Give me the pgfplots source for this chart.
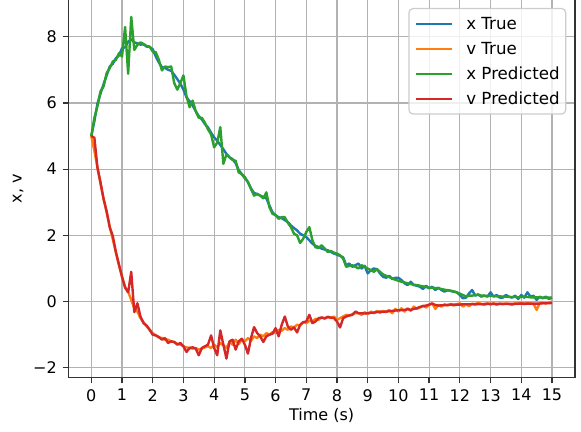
\documentclass[border=0pt]{standalone}
\usepackage{fontspec}
\setmainfont{DejaVu Sans}
\usepackage{pgfplots}
\usepackage{pgfplotstable}
\pgfplotsset{compat=1.18}
\definecolor{C0}{HTML}{1F77B4}
\definecolor{C1}{HTML}{FF7F0E}
\definecolor{C2}{HTML}{2CA02C}
\definecolor{C3}{HTML}{D62728}
\pgfplotstableread{
t xt vt xp vp
0.0 5.00 5.00 5.00 5.00
0.1 5.45 4.55 5.55 4.95
0.2 5.98 4.05 5.90 4.05
0.3 6.28 3.55 6.35 3.60
0.4 6.57 3.10 6.50 3.10
0.5 6.83 2.70 6.90 2.72
0.6 7.10 2.25 7.05 2.25
0.7 7.18 1.88 7.25 1.98
0.8 7.35 1.48 7.30 1.50
0.9 7.43 1.10 7.50 1.12
1.0 7.65 0.75 7.40 0.75
1.1 7.68 0.45 8.29 0.42
1.2 7.85 0.30 6.88 0.28
1.3 7.92 0.05 8.60 0.90
1.4 7.83 -0.20 7.60 -0.32
1.5 7.80 -0.30 7.75 -0.05
1.6 7.76 -0.50 7.83 -0.45
1.7 7.77 -0.62 7.78 -0.65
1.8 7.70 -0.75 7.72 -0.72
1.9 7.69 -0.85 7.70 -0.85
2.0 7.62 -0.95 7.55 -1.00
2.1 7.40 -1.02 7.53 -1.02
2.2 7.22 -1.08 7.30 -1.07
2.3 7.08 -1.10 6.98 -1.15
2.4 7.06 -1.15 7.10 -1.10
2.5 7.00 -1.15 7.08 -1.25
2.6 6.97 -1.20 7.10 -1.20
2.7 6.85 -1.22 6.60 -1.22
2.8 6.72 -1.27 6.40 -1.30
2.9 6.58 -1.30 6.60 -1.25
3.0 6.40 -1.35 6.83 -1.35
3.1 6.17 -1.38 6.20 -1.52
3.2 6.05 -1.40 5.87 -1.40
3.3 5.92 -1.42 6.07 -1.38
3.4 5.75 -1.40 5.75 -1.42
3.5 5.60 -1.45 5.55 -1.62
3.6 5.50 -1.42 5.55 -1.40
3.7 5.36 -1.38 5.40 -1.35
3.8 5.26 -1.35 5.20 -1.30
3.9 5.10 -1.40 5.05 -1.02
4.0 4.96 -1.30 4.66 -1.40
4.1 4.86 -1.38 4.80 -1.62
4.2 4.73 -1.25 5.27 -0.87
4.3 4.60 -1.32 4.16 -1.30
4.4 4.46 -1.40 4.45 -1.72
4.5 4.36 -1.22 4.35 -1.20
4.6 4.30 -1.30 4.28 -1.15
4.7 4.18 -1.15 4.25 -1.45
4.8 3.97 -1.28 3.90 -1.20
4.9 3.85 -1.15 3.85 -1.12
5.0 3.76 -1.20 3.72 -1.30
5.1 3.60 -1.10 3.62 -1.57
5.2 3.42 -1.18 3.40 -1.10
5.3 3.28 -1.05 3.20 -0.77
5.4 3.25 -1.10 3.25 -0.95
5.5 3.20 -1.00 3.20 -1.05
5.6 3.16 -1.05 3.12 -1.22
5.7 3.12 -0.95 3.30 -1.05
5.8 2.90 -1.00 2.85 -1.00
5.9 2.70 -0.92 2.65 -0.97
6.0 2.60 -0.95 2.62 -0.80
6.1 2.55 -0.85 2.50 -1.05
6.2 2.52 -0.88 2.55 -0.70
6.3 2.46 -0.80 2.55 -0.45
6.4 2.40 -0.85 2.38 -0.75
6.5 2.30 -0.75 2.25 -0.85
6.6 2.22 -0.78 2.05 -0.78
6.7 2.15 -0.70 2.00 -0.93
6.8 2.05 -0.72 1.77 -0.70
6.9 2.00 -0.62 1.90 -0.62
7.0 1.95 -0.65 2.10 -0.60
7.1 1.85 -0.58 2.25 -0.40
7.2 1.75 -0.60 1.85 -0.65
7.3 1.68 -0.52 1.64 -0.60
7.4 1.65 -0.55 1.62 -0.50
7.5 1.60 -0.48 1.70 -0.48
7.6 1.57 -0.52 1.60 -0.50
7.7 1.55 -0.45 1.50 -0.47
7.8 1.50 -0.50 1.53 -0.48
7.9 1.45 -0.45 1.48 -0.50
8.0 1.42 -0.55 1.45 -0.60
8.1 1.38 -0.50 1.40 -0.78
8.2 1.34 -0.45 1.30 -0.50
8.3 1.10 -0.40 1.05 -0.45
8.4 1.15 -0.42 1.08 -0.42
8.5 1.05 -0.38 1.10 -0.40
8.6 1.10 -0.35 1.05 -0.30
8.7 1.15 -0.35 1.00 -0.35
8.8 1.00 -0.40 1.10 -0.35
8.9 1.08 -0.32 1.05 -0.36
9.0 0.85 -0.38 1.00 -0.35
9.1 0.95 -0.30 0.95 -0.34
9.2 1.00 -0.35 0.90 -0.33
9.3 0.98 -0.28 0.98 -0.32
9.4 0.85 -0.34 0.90 -0.30
9.5 0.75 -0.28 0.82 -0.31
9.6 0.72 -0.32 0.78 -0.30
9.7 0.78 -0.25 0.74 -0.29
9.8 0.68 -0.35 0.70 -0.28
9.9 0.72 -0.22 0.66 -0.27
10.0 0.72 -0.30 0.63 -0.26
10.1 0.65 -0.20 0.60 -0.26
10.2 0.55 -0.30 0.58 -0.25
10.3 0.50 -0.20 0.55 -0.23
10.4 0.60 -0.28 0.53 -0.25
10.5 0.50 -0.15 0.51 -0.22
10.6 0.48 -0.22 0.50 -0.20
10.7 0.45 -0.18 0.48 -0.16
10.8 0.38 -0.12 0.46 -0.14
10.9 0.48 -0.18 0.44 -0.12
11.0 0.40 -0.10 0.42 -0.09
11.1 0.45 -0.05 0.42 -0.06
11.2 0.35 -0.22 0.41 -0.10
11.3 0.42 -0.10 0.40 -0.12
11.4 0.35 -0.15 0.38 -0.11
11.5 0.30 -0.08 0.36 -0.11
11.6 0.35 -0.12 0.34 -0.10
11.7 0.32 -0.07 0.33 -0.09
11.8 0.30 -0.12 0.31 -0.09
11.9 0.28 -0.08 0.28 -0.09
12.0 0.20 -0.05 0.24 -0.09
12.1 0.10 -0.15 0.20 -0.08
12.2 0.12 -0.08 0.15 -0.08
12.3 0.25 -0.14 0.18 -0.08
12.4 0.35 -0.06 0.18 -0.08
12.5 0.18 -0.10 0.20 -0.07
12.6 0.22 -0.03 0.20 -0.08
12.7 0.15 -0.07 0.18 -0.08
12.8 0.18 -0.10 0.18 -0.07
12.9 0.15 -0.05 0.17 -0.07
13.0 0.28 -0.09 0.17 -0.07
13.1 0.15 -0.05 0.17 -0.07
13.2 0.20 -0.10 0.16 -0.07
13.3 0.12 -0.06 0.16 -0.07
13.4 0.12 -0.08 0.15 -0.07
13.5 0.20 -0.06 0.15 -0.07
13.6 0.15 -0.07 0.14 -0.07
13.7 0.12 -0.10 0.14 -0.07
13.8 0.18 -0.05 0.14 -0.07
13.9 0.08 -0.07 0.13 -0.06
14.0 0.20 -0.04 0.14 -0.06
14.1 0.12 -0.08 0.14 -0.06
14.2 0.28 -0.05 0.14 -0.06
14.3 0.15 -0.06 0.13 -0.06
14.4 0.18 -0.07 0.13 -0.06
14.5 0.05 -0.25 0.13 -0.06
14.6 0.15 -0.05 0.13 -0.06
14.7 0.10 -0.04 0.12 -0.05
14.8 0.15 -0.06 0.12 -0.05
14.9 0.08 -0.03 0.12 -0.05
15.0 0.12 0.00 0.12 -0.04
}\data
\begin{document}
\begin{tikzpicture}
\begin{axis}[
  at={(0,0)}, anchor=south west,
  scale only axis,
  width=380pt, height=283.6pt,
  xmin=-0.75, xmax=15.75,
  ymin=-2.3, ymax=9.12,
  xtick={0,1,...,15},
  ytick={-2,0,2,4,6,8},
  yticklabels={−2,0,2,4,6,8},
  grid=major,
  grid style={color=black!30, line width=0.9pt},
  tick align=outside,
  tick pos=left,
  major tick length=4.2pt,
  tick style={black!80, line width=0.96pt},
  axis line style={black!80, line width=0.96pt},
  /pgf/number format/assume math mode=true,
  ticklabel style={font=\fontsize{12}{14}\selectfont},
  xticklabel style={inner sep=0pt, anchor=north, yshift=-4.2pt},
  yticklabel style={inner sep=0pt, anchor=east, xshift=-4.2pt},
  label style={font=\fontsize{12}{14}\selectfont},
  xlabel={Time (s)},
  ylabel={x, v},
  xlabel style={at={(axis description cs:0.5,-0.101)}, anchor=center},
  ylabel style={at={(axis description cs:-0.099,0.5)}, anchor=center, rotate=0},
  legend cell align=left,
  legend style={font=\fontsize{12.5}{14}\selectfont, draw=black!20, line width=0.9pt, rounded corners=3pt, fill=white, fill opacity=0.8, text opacity=1, at={(1,1)}, anchor=north east, xshift=-6.5pt, yshift=-6.3pt, inner xsep=4.5pt, inner ysep=2pt, row sep=0pt, nodes={inner sep=0pt, text height=13.8pt, text depth=4.95pt}, /tikz/every odd column/.append style={column sep=9.75pt}, /tikz/every even column/.append style={column sep=0pt}},
  legend image code/.code={\draw[#1] (0pt,0pt) -- (27pt,0pt);},
  every axis plot/.append style={line width=1.8pt, line join=round},
]
\addplot[C0, mark=none] table[x=t, y=xt] {\data};
\addlegendentry{x True}
\addplot[C1, mark=none] table[x=t, y=vt] {\data};
\addlegendentry{v True}
\addplot[C2, mark=none] table[x=t, y=xp] {\data};
\addlegendentry{x Predicted}
\addplot[C3, mark=none] table[x=t, y=vp] {\data};
\addlegendentry{v Predicted}
\end{axis}
\pgfresetboundingbox
\path (-51.2pt,-40pt) rectangle (384.5pt,283.3pt);
\end{tikzpicture}
\end{document}
